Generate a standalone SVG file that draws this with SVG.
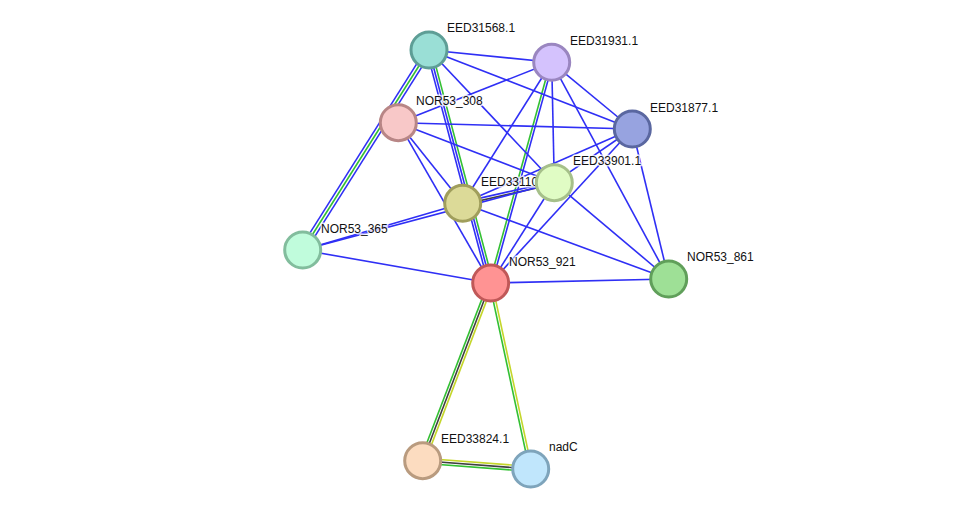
<svg xmlns="http://www.w3.org/2000/svg" width="976" height="514" viewBox="0 0 976 514">
<style>
.e{stroke-width:1.6;fill:none}
.b{stroke:#2f2ff5}
.g{stroke:#33c033}
.y{stroke:#c4d62a}
.k{stroke:#404040}
.n circle{stroke-width:3}
.n text{font-family:"Liberation Sans",Arial,sans-serif;font-size:12px;fill:#111;stroke:#fff;stroke-width:3;stroke-opacity:0.8;paint-order:stroke;stroke-linejoin:round}
</style>
<rect width="976" height="514" fill="#fff"/>
<g id="edges">
<line class="e b" x1="431.5" y1="51.6" x2="305.2" y2="251.6"/>
<line class="e g" x1="429" y1="50" x2="302.7" y2="250"/>
<line class="e b" x1="426.5" y1="48.4" x2="300.2" y2="248.4"/>
<line class="e b" x1="426.6" y1="50.6" x2="488.3" y2="283.6"/>
<line class="e b" x1="429" y1="50" x2="490.7" y2="283"/>
<line class="e g" x1="431.4" y1="49.4" x2="493.1" y2="282.4"/>
<line class="e g" x1="550.5" y1="62" x2="489.5" y2="282.7"/>
<line class="e b" x1="552.9" y1="62.6" x2="491.9" y2="283.3"/>
<line class="e b" x1="462.4" y1="202.1" x2="554" y2="181.5"/>
<line class="e k" x1="463" y1="204.5" x2="554.6" y2="183.9"/>
<line class="e b" x1="429" y1="50" x2="551.7" y2="62.3"/>
<line class="e b" x1="429" y1="50" x2="632.3" y2="129"/>
<line class="e b" x1="429" y1="50" x2="554.3" y2="182.7"/>
<line class="e b" x1="551.7" y1="62.3" x2="398.3" y2="122.7"/>
<line class="e b" x1="551.7" y1="62.3" x2="632.3" y2="129"/>
<line class="e b" x1="551.7" y1="62.3" x2="554.3" y2="182.7"/>
<line class="e b" x1="551.7" y1="62.3" x2="462.7" y2="203.3"/>
<line class="e b" x1="551.7" y1="62.3" x2="668.7" y2="279"/>
<line class="e b" x1="398.3" y1="122.7" x2="632.3" y2="129"/>
<line class="e b" x1="398.3" y1="122.7" x2="554.3" y2="182.7"/>
<line class="e b" x1="398.3" y1="122.7" x2="462.7" y2="203.3"/>
<line class="e b" x1="398.3" y1="122.7" x2="490.7" y2="283"/>
<line class="e b" x1="632.3" y1="129" x2="554.3" y2="182.7"/>
<line class="e b" x1="632.3" y1="129" x2="462.7" y2="203.3"/>
<line class="e b" x1="632.3" y1="129" x2="490.7" y2="283"/>
<line class="e b" x1="632.3" y1="129" x2="668.7" y2="279"/>
<line class="e b" x1="554.3" y1="182.7" x2="302.7" y2="250"/>
<line class="e b" x1="554.3" y1="182.7" x2="490.7" y2="283"/>
<line class="e b" x1="554.3" y1="182.7" x2="668.7" y2="279"/>
<line class="e b" x1="462.7" y1="203.3" x2="302.7" y2="250"/>
<line class="e b" x1="462.7" y1="203.3" x2="668.7" y2="279"/>
<line class="e b" x1="302.7" y1="250" x2="490.7" y2="283"/>
<line class="e b" x1="490.7" y1="283" x2="668.7" y2="279"/>
<line class="e g" x1="488.4" y1="282.1" x2="420.4" y2="459.8"/>
<line class="e k" x1="490.7" y1="283" x2="422.7" y2="460.7"/>
<line class="e y" x1="493" y1="283.9" x2="425" y2="461.6"/>
<line class="e g" x1="489.5" y1="283.3" x2="529.5" y2="469.3"/>
<line class="e y" x1="491.9" y1="282.7" x2="531.9" y2="468.7"/>
<line class="e y" x1="422.9" y1="458.2" x2="530.9" y2="466.5"/>
<line class="e k" x1="422.7" y1="460.7" x2="530.7" y2="469"/>
<line class="e g" x1="422.5" y1="463.2" x2="530.5" y2="471.5"/>
</g>
<g id="EED31568.1" class="n"><circle cx="429" cy="50" r="18" fill="#9adfd6" stroke="#5e9e96"/><text x="447" y="32">EED31568.1</text></g>
<g id="EED31931.1" class="n"><circle cx="551.7" cy="62.3" r="18" fill="#d4c2fd" stroke="#9a86c0"/><text x="570" y="45">EED31931.1</text></g>
<g id="NOR53_308" class="n"><circle cx="398.3" cy="122.7" r="18" fill="#f8c8c8" stroke="#b88686"/><text x="416" y="105">NOR53_308</text></g>
<g id="EED31877.1" class="n"><circle cx="632.3" cy="129" r="18" fill="#97a3e0" stroke="#5a67a0"/><text x="650" y="112">EED31877.1</text></g>
<g id="EED33110.1" class="n"><circle cx="462.7" cy="203.3" r="18" fill="#dcda98" stroke="#a09e5c"/><text x="481" y="186">EED33110.1</text></g>
<g id="EED33901.1" class="n"><circle cx="554.3" cy="182.7" r="18" fill="#e0fcc4" stroke="#a6c08a"/><text x="573" y="165">EED33901.1</text></g>
<g id="NOR53_365" class="n"><circle cx="302.7" cy="250" r="18" fill="#c0fcdc" stroke="#82bd9d"/><text x="321" y="233">NOR53_365</text></g>
<g id="NOR53_921" class="n"><circle cx="490.7" cy="283" r="18" fill="#ff9393" stroke="#c05858"/><text x="509" y="266">NOR53_921</text></g>
<g id="NOR53_861" class="n"><circle cx="668.7" cy="279" r="18" fill="#9ee096" stroke="#609f5a"/><text x="687" y="261">NOR53_861</text></g>
<g id="EED33824.1" class="n"><circle cx="422.7" cy="460.7" r="18" fill="#fcdcc0" stroke="#b99b7f"/><text x="441" y="443">EED33824.1</text></g>
<g id="nadC" class="n"><circle cx="530.7" cy="469" r="18" fill="#c0e6fc" stroke="#7ea4bb"/><text x="549" y="451">nadC</text></g>
</svg>
